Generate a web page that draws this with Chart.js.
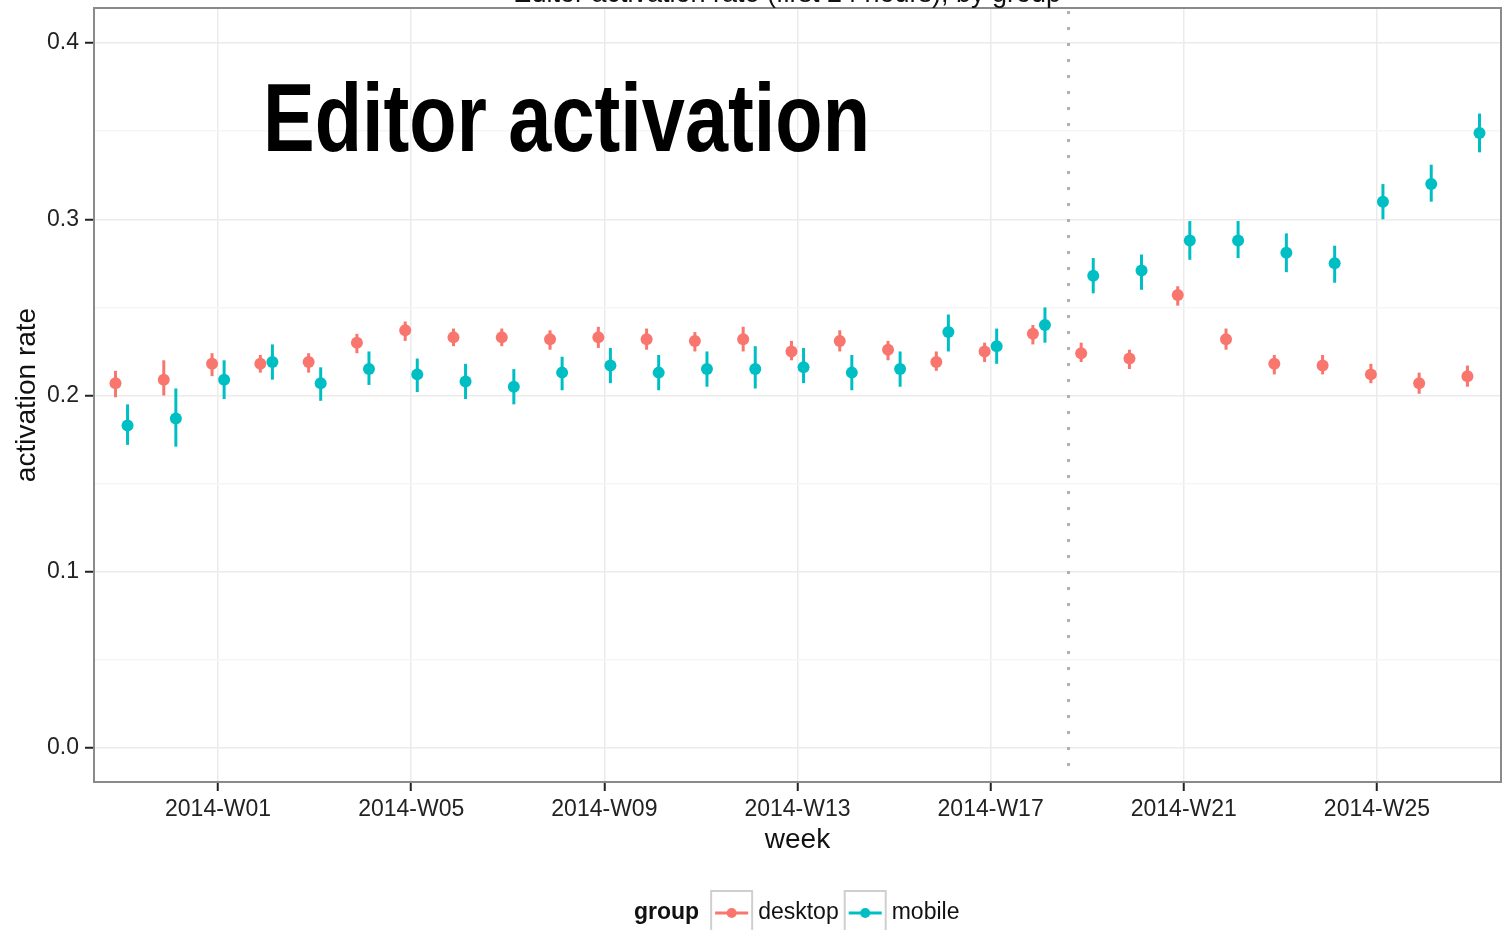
<!DOCTYPE html>
<html>
<head>
<meta charset="utf-8">
<script src="https://cdn.jsdelivr.net/npm/chart.js@4"></script>
<style>
  html, body { margin: 0; padding: 0; background: #fff; }
  #wrap { width: 1503px; height: 930px; }
</style>
</head>
<body>
<div id="wrap"><canvas id="chart" width="1503" height="930"></canvas></div>
<script>
// weekly editor activation rate, desktop vs mobile, with 95% intervals
const weeks = ["2013-W51","2013-W52",
  "2014-W01","2014-W02","2014-W03","2014-W04","2014-W05","2014-W06","2014-W07","2014-W08",
  "2014-W09","2014-W10","2014-W11","2014-W12","2014-W13","2014-W14","2014-W15","2014-W16",
  "2014-W17","2014-W18","2014-W19","2014-W20","2014-W21","2014-W22","2014-W23","2014-W24",
  "2014-W25","2014-W26","2014-W27"];
const tickWeeks = ["2014-W01","2014-W05","2014-W09","2014-W13","2014-W17","2014-W21","2014-W25"];

const desktopRate = [0.207,0.209,0.218,0.218,0.219,0.230,0.237,0.233,0.233,0.232,0.233,0.232,0.231,0.232,0.225,
  0.231,0.226,0.219,0.225,0.235,0.224,0.221,0.257,0.232,0.218,0.217,0.212,0.207,0.211];
const desktopLow  = [0.199,0.200,0.211,0.213,0.213,0.224,0.231,0.228,0.228,0.226,0.227,0.226,0.225,0.225,0.220,
  0.225,0.220,0.214,0.219,0.229,0.219,0.215,0.251,0.226,0.212,0.212,0.207,0.201,0.205];
const desktopHigh = [0.214,0.220,0.224,0.223,0.224,0.235,0.242,0.238,0.238,0.237,0.239,0.238,0.236,0.239,0.231,
  0.237,0.231,0.225,0.230,0.240,0.230,0.226,0.262,0.238,0.223,0.223,0.218,0.213,0.217];

const mobileRate = [0.183,0.187,0.209,0.219,0.207,0.215,0.212,0.208,0.205,0.213,0.217,0.213,0.215,0.215,0.216,
  0.213,0.215,0.236,0.228,0.240,0.268,0.271,0.288,0.288,0.281,0.275,0.310,0.320,0.349];
const mobileLow  = [0.172,0.171,0.198,0.209,0.197,0.206,0.202,0.198,0.195,0.203,0.207,0.203,0.205,0.204,0.207,
  0.203,0.205,0.225,0.218,0.230,0.258,0.260,0.277,0.278,0.270,0.264,0.300,0.310,0.338];
const mobileHigh = [0.195,0.204,0.220,0.229,0.216,0.225,0.221,0.218,0.215,0.222,0.227,0.223,0.225,0.228,0.227,
  0.223,0.225,0.246,0.238,0.250,0.278,0.280,0.299,0.299,0.292,0.285,0.320,0.331,0.360];

const groupNames = ["desktop","mobile"];
const cutover = 19.6;   // release marker, in week-index units

const FONT = '"Liberation Sans", Arial, Helvetica, sans-serif';
const groups = [
  {name: groupNames[0], color: "#F8766D", shift: -0.125, rate: desktopRate, lo: desktopLow, hi: desktopHigh},
  {name: groupNames[1], color: "#00BFC4", shift: 0.125, rate: mobileRate, lo: mobileLow, hi: mobileHigh}
];

const errorBars = {
  id: "errorBars",
  beforeDatasetsDraw(chart) {
    const {ctx, chartArea, scales: {x, y}} = chart;
    ctx.save();
    // dotted cutover line
    ctx.strokeStyle = "#b0b0b0";
    ctx.lineWidth = 3;
    ctx.setLineDash([3, 13]);
    const cx = Math.round(x.getPixelForValue(cutover)) + 0.5;
    ctx.beginPath();
    ctx.moveTo(cx, chartArea.top + 3);
    ctx.lineTo(cx, y.getPixelForValue(-0.013));
    ctx.stroke();
    ctx.setLineDash([]);
    // vertical interval lines
    ctx.lineWidth = 3;
    groups.forEach(g => {
      ctx.strokeStyle = g.color;
      g.lo.forEach((lo, i) => {
        const px = x.getPixelForValue(i + g.shift);
        ctx.beginPath();
        ctx.moveTo(px, y.getPixelForValue(lo));
        ctx.lineTo(px, y.getPixelForValue(g.hi[i]));
        ctx.stroke();
      });
    });
    ctx.restore();
  },
  afterDraw(chart) {
    const {ctx, chartArea} = chart;
    ctx.save();
    // panel border
    ctx.strokeStyle = "#8a8a8a";
    ctx.lineWidth = 2;
    ctx.strokeRect(chartArea.left, chartArea.top, chartArea.right - chartArea.left, chartArea.bottom - chartArea.top);

    // plot title, mostly above the canvas edge
    ctx.fillStyle = "#111";
    ctx.font = "27px " + FONT;
    ctx.textBaseline = "alphabetic";
    ctx.textAlign = "right";
    ctx.fillText("Editor activation rate ", 767, 2);
    ctx.textAlign = "left";
    ctx.fillText("(first 24 hours), by group", 767, 2);

    // headline
    ctx.font = 'bold 96px "Liberation Sans Narrow", "Arial Narrow", sans-serif';
    const head = "Editor activation";
    const w = ctx.measureText(head).width;
    ctx.translate(263, 151);
    ctx.scale(607 / w, 1);
    ctx.fillStyle = "#000";
    ctx.fillText(head, 0, 0);
    ctx.setTransform(1, 0, 0, 1, 0, 0);

    // legend
    const ly = 913;
    let lx = 634;
    ctx.fillStyle = "#111";
    ctx.textBaseline = "middle";
    ctx.font = "bold 23px " + FONT;
    ctx.fillText("group", lx, ly);
    lx += ctx.measureText("group").width + 12;
    ctx.font = "23px " + FONT;
    groups.forEach(g => {
      ctx.fillStyle = "#fff";
      ctx.fillRect(lx, 891, 41, 50);
      ctx.strokeStyle = "#cfcfcf";
      ctx.lineWidth = 2;
      ctx.strokeRect(lx, 891, 41, 50);
      ctx.strokeStyle = g.color;
      ctx.lineWidth = 3;
      ctx.beginPath();
      ctx.moveTo(lx + 4, ly);
      ctx.lineTo(lx + 37, ly);
      ctx.stroke();
      ctx.fillStyle = g.color;
      ctx.beginPath();
      ctx.arc(lx + 20.5, ly, 5, 0, Math.PI * 2);
      ctx.fill();
      ctx.fillStyle = "#111";
      ctx.fillText(g.name, lx + 47, ly);
      lx += 47 + ctx.measureText(g.name).width + 6;
    });
    ctx.restore();
  }
};

const chart = new Chart(document.getElementById("chart"), {
  type: "scatter",
  data: {
    datasets: groups.map(g => ({
      label: g.name,
      data: g.rate.map((v, i) => ({x: i + g.shift, y: v})),
      backgroundColor: g.color,
      borderColor: g.color,
      pointRadius: 6,
      pointBorderWidth: 0
    }))
  },
  options: {
    responsive: false,
    animation: false,
    layout: {autoPadding: false, padding: {top: 8, right: 2, bottom: 73, left: 0}},
    plugins: {legend: {display: false}, tooltip: {enabled: false}},
    scales: {
      x: {
        type: "linear",
        min: -0.57, max: 28.57,
        afterBuildTicks: s => { s.ticks = tickWeeks.map(w => ({value: weeks.indexOf(w)})); },
        afterFit: s => { s.height = 75; s.paddingLeft = 0; s.paddingRight = 0; },
        ticks: {
          callback: v => weeks[v],
          color: "#222", font: {family: FONT, size: 23}, padding: 5, maxRotation: 0, autoSkip: false
        },
        grid: {color: "#ebebeb", lineWidth: 1.5, tickLength: 9, tickColor: "#222", tickWidth: 2},
        border: {display: false},
        title: {display: true, text: "week", color: "#111", font: {family: FONT, size: 28}, padding: {top: 0, bottom: 0}}
      },
      y: {
        min: -0.0193, max: 0.4199,
        afterBuildTicks: s => {
          const t = [];
          for (let k = 0; k <= 8; k++) t.push({value: +(k * 0.05).toFixed(2)});
          s.ticks = t;
        },
        afterFit: s => { s.width = 94; s.paddingTop = 0; s.paddingBottom = 0; },
        ticks: {
          callback: v => (Math.round(v * 100) % 10 === 0 ? v.toFixed(1) : ""),
          color: "#222", font: {family: FONT, size: 23}, padding: 6
        },
        grid: {
          color: c => (Math.round(c.tick.value * 100) % 10 === 0 ? "#ebebeb" : "#f5f5f5"),
          lineWidth: 1.5,
          tickLength: 9,
          tickWidth: 2,
          tickColor: c => (Math.round(c.tick.value * 100) % 10 === 0 ? "#222" : "rgba(0,0,0,0)")
        },
        border: {display: false},
        title: {display: true, text: "activation rate", color: "#111", font: {family: FONT, size: 28}, padding: {top: 10, bottom: 0}}
      }
    }
  },
  plugins: [errorBars]
});
</script>
</body>
</html>
